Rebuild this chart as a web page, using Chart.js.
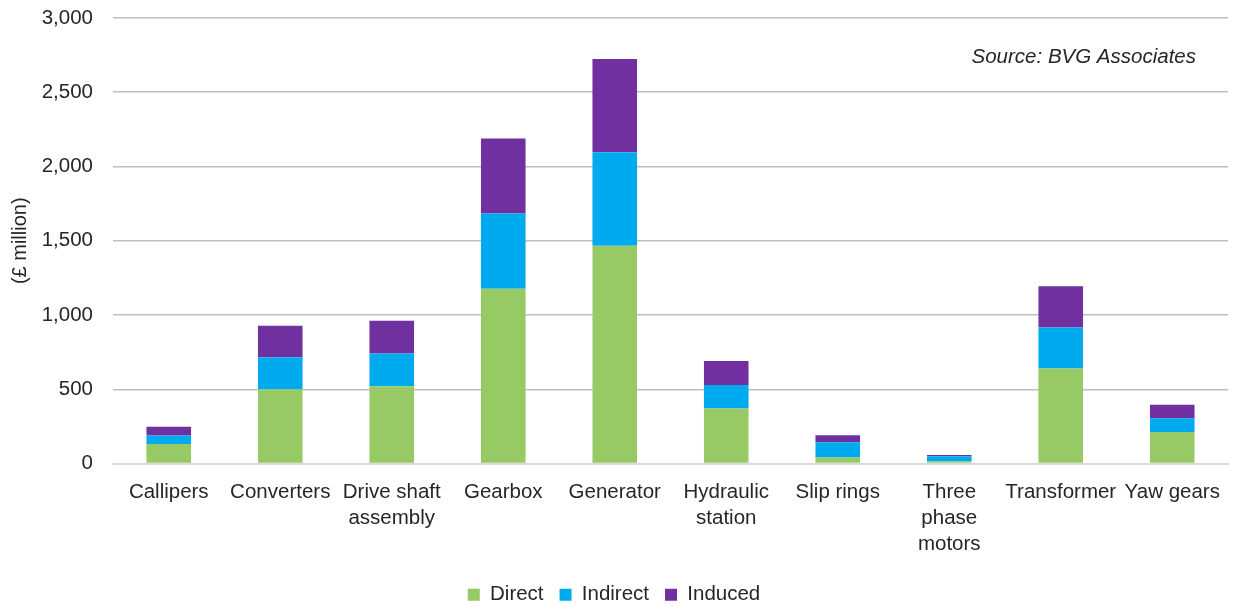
<!DOCTYPE html>
<html>
<head>
<meta charset="utf-8">
<script src="https://cdn.jsdelivr.net/npm/chart.js@4"></script>
<style>
  html, body { margin: 0; padding: 0; background: #ffffff; }
  #wrap { width: 1233px; height: 607px; }
</style>
</head>
<body>
<div id="wrap"><canvas id="chart" width="1233" height="607"></canvas></div>
<script>
// Supply-chain components (£ million), stacked by impact type
const categories = [
  "Callipers", "Converters", ["Drive shaft", "assembly"], "Gearbox", "Generator",
  ["Hydraulic", "station"], "Slip rings", ["Three", "phase", "motors"], "Transformer", "Yaw gears"
];
const direct   = [132, 500, 520, 1177, 1466, 370, 40, 14, 640, 212];
const indirect = [57, 215, 220, 507, 630, 159, 103, 34, 276, 92];
const induced  = [58, 213, 222, 505, 628, 161, 47, 10, 278, 92];
const yTicks = [0, 500, 1000, 1500, 2000, 2500, 3000];
const sourceNote = "Source: BVG Associates";

const FONT = "'Liberation Sans', Arial, sans-serif";
const TEXT = "#262626";
const FS = 20.5;

const sourcePlugin = {
  id: "sourceNote",
  afterDraw(chart) {
    const { ctx, chartArea } = chart;
    ctx.save();
    ctx.font = "italic " + FS + "px " + FONT;
    ctx.fillStyle = TEXT;
    ctx.textAlign = "right";
    ctx.textBaseline = "middle";
    ctx.fillText(sourceNote, chartArea.right - 32, chartArea.top + 39);
    ctx.restore();
  }
};

new Chart(document.getElementById("chart"), {
  type: "bar",
  data: {
    labels: categories,
    datasets: [
      { label: "Direct",   data: direct,   backgroundColor: "#97c964" },
      { label: "Indirect", data: indirect, backgroundColor: "#00aaee" },
      { label: "Induced",  data: induced,  backgroundColor: "#7030a0" }
    ]
  },
  options: {
    responsive: false,
    animation: false,
    layout: { padding: { top: 18, right: 5, left: 0, bottom: -8 } },
    datasets: { bar: { barPercentage: 0.4, categoryPercentage: 1.0 } },
    plugins: {
      legend: {
        position: "bottom",
        labels: {
          font: { family: FONT, size: FS },
          color: TEXT,
          boxWidth: 12,
          boxHeight: 12,
          padding: 16
        }
      },
      tooltip: { enabled: false }
    },
    scales: {
      x: {
        stacked: true,
        grid: { display: false, drawTicks: false },
        border: { display: true, color: "#d9d9d9", width: 2 },
        ticks: {
          font: { family: FONT, size: FS, lineHeight: 26 / FS },
          color: TEXT,
          padding: 16,
          maxRotation: 0,
          autoSkip: false
        },
        afterFit(axis) {
          axis.height = 105;
          axis.paddingLeft = 0;
          axis.paddingRight = 0;
        }
      },
      y: {
        stacked: true,
        min: 0,
        max: 3000,
        afterBuildTicks(axis) { axis.ticks = yTicks.map(v => ({ value: v })); },
        afterFit(axis) {
          axis.width = 113;
          axis.paddingTop = 0;
          axis.paddingBottom = 0;
        },
        grid: { color: "#bfbfbf", lineWidth: 1.5, drawTicks: false },
        border: { display: false },
        title: {
          display: true,
          text: "(£ million)",
          font: { family: FONT, size: 20 },
          color: TEXT,
          padding: { top: 8, bottom: 0 }
        },
        ticks: {
          font: { family: FONT, size: FS },
          color: TEXT,
          padding: 20,
          callback: v => v.toLocaleString("en-GB")
        }
      }
    }
  },
  plugins: [sourcePlugin]
});
</script>
</body>
</html>
